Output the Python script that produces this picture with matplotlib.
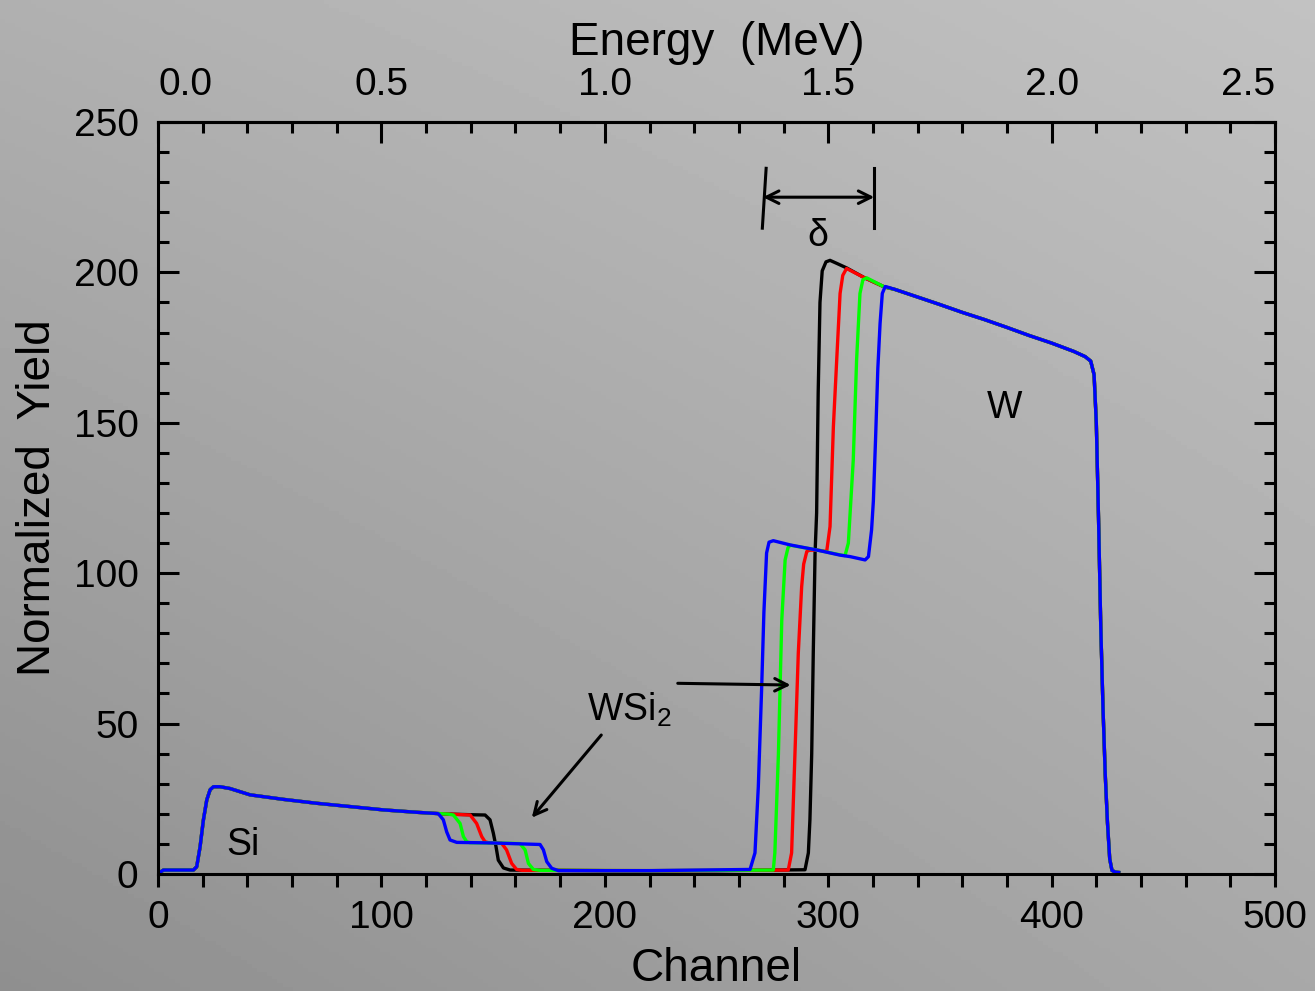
"""RBS spectra of W/Si annealing series: normalized yield vs channel."""

import matplotlib.pyplot as plt
import numpy as np
from matplotlib.ticker import FixedLocator, MultipleLocator

plt.rcParams["font.family"] = ["Liberation Sans", "DejaVu Sans"]
plt.rcParams["mathtext.fontset"] = "custom"
plt.rcParams["mathtext.rm"] = "Liberation Sans"

# shared Si substrate edge (all spectra overlap here)
si_head_ch = [0, 0.8, 2.4, 15.8, 17.3, 18.8, 20.3, 21.8, 23.3, 24.8, 27.7, 32.2,
              41.2, 56.1, 71, 86, 100.9, 115.8, 124.7]
si_head_y = [0, 0.5, 1.3, 1.3, 2.4, 9, 18, 24.6, 28, 29, 29, 28.4,
             26.3, 24.8, 23.5, 22.4, 21.3, 20.5, 20.1]

# shared W surface plateau and back edge
w_tail_ch = [330, 340, 350, 360, 370, 380, 390, 400, 410, 415, 417.5, 419, 420,
             421, 422, 423, 424, 425, 426, 427, 428.5, 430]
w_tail_y = [194.3, 191.8, 189.3, 186.7, 184.3, 181.7, 179, 176.5, 173.7, 172, 170.5,
            166, 150, 118, 82, 55, 33, 17, 5, 1.2, 0.6, 0.5]

black_ch = [130, 140, 146.4, 148.6, 150.1, 151.3, 152.3, 154.6, 157.6, 200, 250,
            289.6, 291.1, 291.8, 292.6, 293.3, 294.1, 294.8, 295.5, 296.3, 297.3,
            299, 300.8, 303.8, 308.2, 316, 325]
black_y = [19.9, 19.7, 19.6, 18, 13.5, 9, 4.6, 2, 1.3, 1.1, 1.1,
           1.4, 7, 18, 40, 73.5, 106.7, 120, 160, 190, 200.5,
           203.5, 204, 203, 201.5, 198.3, 195.2]

red_ch = [130, 139.7, 142.6, 144.9, 146.4, 147.9, 153.8, 156, 158.3, 160.5, 163,
          220, 282.1, 283.6, 285.1, 286.6, 288.1, 289, 290.4, 291.5, 295, 299.3,
          300.8, 302.3, 303.8, 305.3, 306.5, 308.2, 316, 325]
red_y = [19.9, 19.6, 16.8, 12.4, 10.7, 10.4, 10.2, 8, 3.5, 1.5, 1.2,
         1.1, 1.3, 7, 40, 73.5, 95.5, 103, 107.2, 107.6, 107.7, 107.2,
         115.5, 148.7, 171, 193, 199, 201.3, 198.3, 195.2]

green_ch = [130, 132.2, 135.2, 136.7, 138.2, 139.7, 150, 162, 164.3, 165.8, 168,
            171, 220, 275.4, 276.1, 277.7, 279.2, 280.7, 282, 283, 295, 305.3,
            307.5, 309, 311.2, 312.7, 314.2, 315.5, 317.2, 325]
green_y = [19.9, 19.6, 16.8, 12.4, 10.7, 10.4, 10.3, 10.1, 8, 3.5, 1.5,
           1.2, 1.1, 1.3, 7, 40, 84.4, 104.4, 108.5, 109.3, 107.7, 106.1,
           105.8, 110, 137.6, 171, 193, 197.5, 198.2, 195.2]

blue_ch = [125.5, 127.7, 129.2, 130.7, 133.7, 150, 171, 172.5, 174, 176.2, 179.2,
           220, 265, 267.2, 268.7, 270.2, 271.2, 272.4, 273.5, 275.4, 282.9, 294.9,
           305.3, 309.8, 316.5, 318, 319.4, 320.2, 321.2, 322.2, 323.2, 324.2,
           325.5, 327]
blue_y = [20, 18, 14, 11.3, 10.5, 10.3, 9.8, 8, 4.1, 1.9, 1.1,
          1.1, 1.5, 7, 29, 62, 87, 106.7, 110.3, 110.8, 109.4, 107.7,
          106, 105.5, 104.4, 105.5, 114.4, 124, 145, 168, 183, 193,
          195.3, 195]

spectra = [("black", black_ch, black_y), ("red", red_ch, red_y),
           ("#00ff00", green_ch, green_y), ("blue", blue_ch, blue_y)]

energy_ticks = [0.0, 0.5, 1.0, 1.5, 2.0, 2.5]
energy_minor = [0.1, 0.2, 0.3, 0.4, 0.6, 0.7, 0.8, 0.9, 1.1, 1.2, 1.3, 1.4,
                1.6, 1.7, 1.8, 1.9, 2.1, 2.2, 2.3, 2.4]

fig = plt.figure(figsize=(13.15, 9.91), dpi=100)

# gray gradient backdrop, lighter toward the upper right
bg = fig.add_axes([0, 0, 1, 1], zorder=-10)
gx, gy = np.meshgrid(np.linspace(0, 1, 256), np.linspace(0, 1, 256))
shade = 0.56 + 0.10 * gx + 0.13 * gy - 0.03 * gx * gy
bg.imshow(shade, cmap="gray", vmin=0, vmax=1, origin="lower",
          extent=[0, 1, 0, 1], aspect="auto")
bg.axis("off")

ax = fig.add_axes([0.1202, 0.1181, 0.8494, 0.7588])
ax.patch.set_alpha(0)

for color, ch, y in spectra:
    ax.plot(si_head_ch + ch + w_tail_ch, si_head_y + y + w_tail_y,
            color=color, lw=2.4, solid_joinstyle="round")

ax.set_xlim(0, 500)
ax.set_ylim(0, 250)
ax.xaxis.set_major_locator(MultipleLocator(100))
ax.xaxis.set_minor_locator(MultipleLocator(20))
ax.yaxis.set_major_locator(MultipleLocator(50))
ax.yaxis.set_minor_locator(MultipleLocator(10))
for s in ax.spines.values():
    s.set_linewidth(2.2)
ax.tick_params(axis="x", which="both", direction="out", width=2.2, labelsize=28,
               length=9, pad=10)
ax.tick_params(axis="y", which="both", direction="in", width=2.2, labelsize=28,
               right=True, pad=14)
ax.tick_params(axis="y", which="major", length=15)
ax.tick_params(axis="y", which="minor", length=8)

# energy scale on top: 5 keV per channel
top = ax.secondary_xaxis("top", functions=(lambda c: c * 0.005, lambda e: e / 0.005))
top.xaxis.set_major_locator(FixedLocator(energy_ticks))
top.xaxis.set_minor_locator(FixedLocator(energy_minor))
top.xaxis.set_major_formatter(lambda v, p: f"{v:.1f}")
top.tick_params(which="both", direction="in", width=2.2, labelsize=28, pad=14)
top.tick_params(which="major", length=15)
top.tick_params(which="minor", length=8)
top.spines["top"].set_linewidth(2.2)
top.set_xlabel("Energy  (MeV)", fontsize=33, labelpad=8)

ax.set_xlabel("Channel", fontsize=33, labelpad=8)
ax.set_ylabel("Normalized  Yield", fontsize=33, labelpad=10)

# keep the end labels of the energy scale inside the figure
fig.canvas.draw()
for tick in top.xaxis.get_major_ticks():
    if abs(tick.get_loc()) < 1e-6:
        tick.label2.set_horizontalalignment("left")
        tick.label2.set_x(-0.006 * 2.5)
    elif abs(tick.get_loc() - 2.5) < 1e-6:
        tick.label2.set_horizontalalignment("right")

# labels and arrows
ax.text(38, 9.6, "Si", fontsize=27, ha="center", va="center")
ax.text(379, 155, "W", fontsize=27, ha="center", va="center")
ax.text(211, 54.5, "WSi$_2$", fontsize=27, ha="center", va="center")
ax.text(295.4, 212, "δ", fontsize=27, ha="center", va="center")

arrow = dict(arrowstyle="->,head_length=0.9,head_width=0.45", lw=2.2, color="black")
ax.annotate("", xy=(166.5, 18), xytext=(199.2, 46.9), arrowprops=arrow)
ax.annotate("", xy=(284.4, 62.8), xytext=(231.4, 63.4), arrowprops=arrow)
ax.annotate("", xy=(320.6, 225), xytext=(270.8, 225),
            arrowprops=dict(arrowstyle="<->,head_length=0.9,head_width=0.45",
                            lw=2.2, color="black", shrinkA=0, shrinkB=0))
ax.plot([272.2, 270.5], [234.6, 214.7], color="black", lw=2.2)
ax.plot([320.6, 320.6], [234.6, 214.7], color="black", lw=2.2)

fig.savefig("out.png", dpi=100)
